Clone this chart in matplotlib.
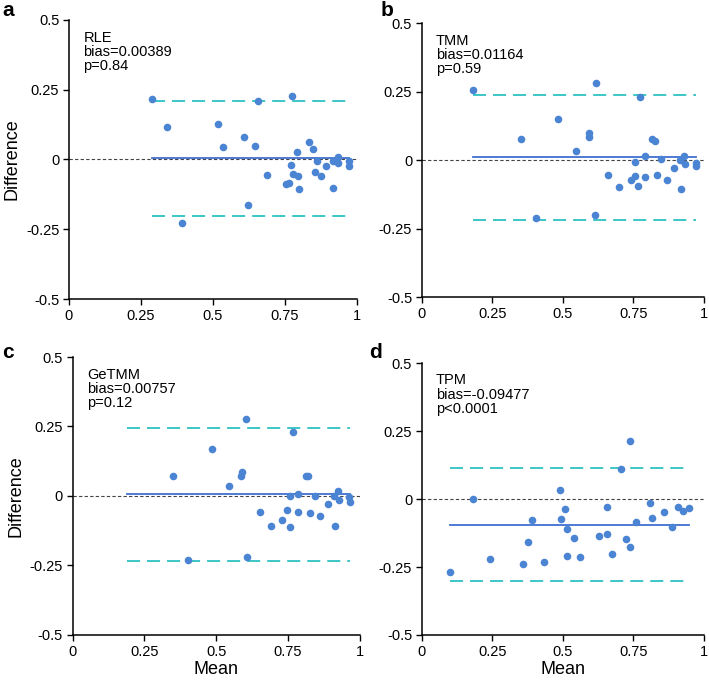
import numpy as np
import matplotlib
matplotlib.use("Agg")
import matplotlib.pyplot as plt

# Bland-Altman data (mean, difference)
rle_mean = [0.287, 0.340, 0.391, 0.516, 0.536, 0.609, 0.623, 0.646, 0.655, 0.689,
            0.753, 0.763, 0.771, 0.774, 0.779, 0.793, 0.794, 0.799, 0.833, 0.846,
            0.856, 0.860, 0.874, 0.894, 0.917, 0.917, 0.935, 0.936, 0.972, 0.972]
rle_diff = [0.216, 0.117, -0.229, 0.127, 0.043, 0.080, -0.162, 0.049, 0.211, -0.056,
            -0.087, -0.085, -0.019, 0.228, -0.051, 0.027, -0.060, -0.104, 0.063, 0.037,
            -0.045, -0.007, -0.059, -0.022, -0.006, -0.102, 0.010, -0.011, -0.007, -0.025]

tmm_mean = [0.183, 0.351, 0.403, 0.484, 0.548, 0.593, 0.594, 0.612, 0.617, 0.658,
            0.699, 0.740, 0.757, 0.757, 0.767, 0.773, 0.791, 0.791, 0.817, 0.825,
            0.835, 0.849, 0.868, 0.894, 0.914, 0.920, 0.929, 0.931, 0.970, 0.973]
tmm_diff = [0.257, 0.076, -0.212, 0.152, 0.035, 0.101, 0.085, -0.200, 0.283, -0.055,
            -0.098, -0.072, -0.007, -0.057, -0.095, 0.229, 0.017, -0.060, 0.076, 0.070,
            -0.054, 0.004, -0.071, -0.027, -0.001, -0.105, 0.017, -0.013, -0.009, -0.023]

getmm_mean = [0.350, 0.403, 0.484, 0.546, 0.587, 0.589, 0.604, 0.608, 0.652, 0.692,
              0.729, 0.748, 0.756, 0.758, 0.767, 0.784, 0.784, 0.813, 0.821, 0.825,
              0.844, 0.862, 0.890, 0.909, 0.912, 0.924, 0.927, 0.963, 0.966]
getmm_diff = [0.072, -0.229, 0.168, 0.035, 0.073, 0.085, 0.276, -0.219, -0.058, -0.107,
              -0.088, -0.049, -0.001, -0.113, 0.230, 0.008, -0.058, 0.071, 0.071, -0.060,
              -0.001, -0.073, -0.028, -0.001, -0.107, 0.019, -0.014, -0.005, -0.023]

tpm_mean = [0.101, 0.180, 0.243, 0.360, 0.377, 0.390, 0.433, 0.490, 0.492, 0.506,
            0.514, 0.516, 0.538, 0.562, 0.628, 0.657, 0.657, 0.674, 0.707, 0.723,
            0.736, 0.739, 0.760, 0.807, 0.815, 0.857, 0.888, 0.908, 0.927, 0.948]
tpm_diff = [-0.268, 0.001, -0.219, -0.238, -0.157, -0.077, -0.232, 0.033, -0.075, -0.038,
            -0.109, -0.210, -0.142, -0.214, -0.135, -0.031, -0.129, -0.201, 0.110, -0.147,
            -0.176, 0.214, -0.086, -0.015, -0.069, -0.048, -0.102, -0.028, -0.043, -0.034]

methods = ["RLE", "TMM", "GeTMM", "TPM"]
biases = [0.00389, 0.01164, 0.00757, -0.09477]
bias_txt = ["0.00389", "0.01164", "0.00757", "-0.09477"]
pvals = ["p=0.84", "p=0.59", "p=0.12", "p<0.0001"]
upper_loa = [0.210, 0.239, 0.245, 0.116]
lower_loa = [-0.204, -0.220, -0.233, -0.303]
# x extent of the bias / limit lines
line_x0 = [0.287, 0.183, 0.188, 0.098]
line_x1 = [0.972, 0.973, 0.966, 0.948]
panel_tags = ["a", "b", "c", "d"]
means = [rle_mean, tmm_mean, getmm_mean, tpm_mean]
diffs = [rle_diff, tmm_diff, getmm_diff, tpm_diff]

plt.rcParams["font.family"] = ["Liberation Sans", "DejaVu Sans"]

fig = plt.figure(figsize=(7.09, 6.83), dpi=100)
positions = [(0.0973, 0.562, 0.406, 0.409),
             (0.595, 0.565, 0.398, 0.401),
             (0.1025, 0.0703, 0.405, 0.407),
             (0.595, 0.0703, 0.398, 0.398)]
tag_pos = [(0.003, 0.998), (0.537, 0.998), (0.003, 0.498), (0.520, 0.498)]

dot_col = "#4a84d2"
bias_col = "#3f6fd0"
loa_col = "#3cc6c6"

for i in range(4):
	ax = fig.add_axes(positions[i])
	x = np.array(means[i])
	y = np.array(diffs[i])
	xs = [line_x0[i], line_x1[i]]
	ax.axhline(0, color="#444444", lw=0.8, ls=(0, (3, 2)), zorder=1)
	ax.plot(xs, [biases[i]] * 2, color=bias_col, lw=1.3, zorder=2)
	ax.plot(xs, [upper_loa[i]] * 2, color=loa_col, lw=1.4, ls=(0, (6.7, 3.6)), zorder=2)
	ax.plot(xs, [lower_loa[i]] * 2, color=loa_col, lw=1.4, ls=(0, (6.7, 3.6)), zorder=2)
	ax.scatter(x, y, s=30, color=dot_col, zorder=3, linewidths=0)
	ax.set_xlim(0, 1)
	ax.set_ylim(-0.5, 0.5)
	ax.set_xticks([0, 0.25, 0.5, 0.75, 1])
	ax.set_xticklabels(["0", "0.25", "0.5", "0.75", "1"])
	ax.set_yticks([-0.5, -0.25, 0, 0.25, 0.5])
	ax.set_yticklabels(["-0.5", "-0.25", "0", "0.25", "0.5"])
	ax.tick_params(direction="out", length=4, width=1, labelsize=10.5, pad=3)
	for s in ("top", "right"):
		ax.spines[s].set_visible(False)
	for s in ("left", "bottom"):
		ax.spines[s].set_linewidth(1.1)
	lines = [methods[i], "bias=" + bias_txt[i], pvals[i]]
	for k, t in enumerate(lines):
		ax.annotate(t, xy=(0.05, 0.922), xycoords="axes fraction",
		            xytext=(0, -10.3 * k), textcoords="offset points",
		            va="baseline", ha="left", fontsize=10.5)
	if i % 2 == 0:
		ax.set_ylabel("Difference", fontsize=13, labelpad=4)
	if i >= 2:
		ax.set_xlabel("Mean", fontsize=13, labelpad=2)
	fig.text(tag_pos[i][0], tag_pos[i][1], panel_tags[i], fontsize=15, fontweight="bold",
	         va="top", ha="left")

fig.savefig("out.png", dpi=100)
